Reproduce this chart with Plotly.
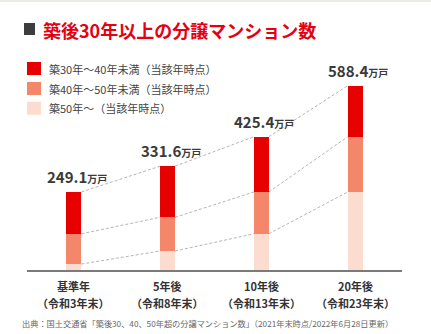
import plotly.graph_objects as go

# Data (万戸)
categories = ["基準年", "5年後", "10年後", "20年後"]
year_notes = ["（令和3年末）", "（令和8年末）", "（令和13年末）", "（令和23年末）"]
total_30plus = [249.1, 331.6, 425.4, 588.4]
over_40 = [115.6, 168.3, 249.1, 425.4]
over_50 = [19.0, 60.7, 115.6, 249.1]

series_names = ["築50年～（当該年時点）", "築40年～50年未満（当該年時点）", "築30年～40年未満（当該年時点）"]
series_colors = ["#fddcd0", "#f4866a", "#e60000"]

# Segment heights derived from the cumulative figures
seg_50 = over_50
seg_40 = [a - b for a, b in zip(over_40, over_50)]
seg_30 = [a - b for a, b in zip(total_30plus, over_40)]
segments = [seg_50, seg_40, seg_30]
levels = [over_50, over_40, total_30plus]

W, H = 431, 334
L, R, T, B = 27, 29, 60, 64
PW, PH = W - L - R, H - T - B
BAR_W = 0.16
FONT = "Noto Sans CJK JP"
xs = list(range(len(categories)))


def px_x(p):
    return (p - L) / PW


def px_y(p):
    return (H - B - p) / PH


fig = go.Figure()

# dashed connectors between corresponding segment tops
for lvl in levels:
    for i in range(len(xs) - 1):
        fig.add_trace(go.Scatter(
            x=[xs[i] + BAR_W / 2, xs[i + 1] - BAR_W / 2],
            y=[lvl[i], lvl[i + 1]],
            mode="lines",
            line=dict(color="#b5b5b5", width=1, dash="3px,2px"),
            hoverinfo="skip", showlegend=False,
        ))

for name, color, seg in zip(series_names, series_colors, segments):
    fig.add_trace(go.Bar(
        x=xs, y=seg, name=name, width=BAR_W,
        marker=dict(color=color, line=dict(width=0)),
        showlegend=False,
    ))

annotations = []
shapes = []

# value labels above bars
for x, v in zip(xs, total_30plus):
    annotations.append(dict(
        x=x, y=v, xref="x", yref="y", xanchor="center", yanchor="bottom",
        yshift=3, xshift=3, showarrow=False,
        text=f"<b>{v:.1f}</b><b><span style='font-size:10px'>万戸</span></b>",
        font=dict(family=FONT, size=15, color="#3a3a3a"),
    ))

# category labels (two lines)
for x, c, n in zip(xs, categories, year_notes):
    annotations.append(dict(
        x=x, y=px_y(286), xref="x", yref="paper", xanchor="center", yanchor="middle",
        showarrow=False, text=f"<b>{c}</b>",
        font=dict(family=FONT, size=11, color="#333333"),
    ))
    annotations.append(dict(
        x=x, y=px_y(303), xref="x", yref="paper", xanchor="center", yanchor="middle",
        showarrow=False, text=f"<b>{n}</b>",
        font=dict(family=FONT, size=11, color="#333333"),
    ))

# legend (top-down: 30-40, 40-50, 50+)
legend_rows = [68.5, 88.5, 108.3]
for cy, name, color in zip(legend_rows, series_names[::-1], series_colors[::-1]):
    shapes.append(dict(
        type="rect", xref="paper", yref="paper",
        x0=px_x(27), x1=px_x(41), y0=px_y(cy + 6.5), y1=px_y(cy - 6.5),
        fillcolor=color, line=dict(width=0),
    ))
    annotations.append(dict(
        x=px_x(47), y=px_y(cy), xref="paper", yref="paper",
        xanchor="left", yanchor="middle", showarrow=False, text=name,
        font=dict(family=FONT, size=11, color="#444444"),
    ))

# title
shapes.append(dict(
    type="rect", xref="paper", yref="paper",
    x0=px_x(24), x1=px_x(35), y0=px_y(35), y1=px_y(23),
    fillcolor="#3d3d3d", line=dict(width=0),
))
annotations.append(dict(
    x=px_x(41), y=px_y(29.5), xref="paper", yref="paper",
    xanchor="left", yanchor="middle", showarrow=False,
    text="<b>築後30年以上の分譲マンション数</b>",
    font=dict(family=FONT, size=18, color="#e60012"),
))

# source note
annotations.append(dict(
    x=px_x(20), y=px_y(323), xref="paper", yref="paper",
    xanchor="left", yanchor="middle", showarrow=False,
    text="出典：国土交通省「築後30、40、50年超の分譲マンション数」（2021年末時点/2022年6月28日更新）",
    font=dict(family=FONT, size=8.2, color="#666666"),
))

# thin band along the top edge
shapes.append(dict(
    type="rect", xref="paper", yref="paper",
    x0=px_x(0), x1=px_x(W), y0=px_y(2), y1=px_y(0),
    fillcolor="#eeebe6", line=dict(width=0),
))

fig.update_layout(
    width=W, height=H,
    margin=dict(l=L, r=R, t=T, b=B),
    barmode="stack",
    paper_bgcolor="white", plot_bgcolor="white",
    showlegend=False,
    annotations=annotations, shapes=shapes,
    xaxis=dict(range=[-0.5, 3.5], showgrid=False, zeroline=False,
               showticklabels=False, ticks="", showline=True,
               linecolor="#7a7a7a", linewidth=2, fixedrange=True),
    yaxis=dict(range=[0, 588.4 * 1.1395], showgrid=False, zeroline=False,
               showticklabels=False, ticks="", showline=False, fixedrange=True),
    font=dict(family=FONT),
)

fig.write_html("out.html", config={"displayModeBar": False})
